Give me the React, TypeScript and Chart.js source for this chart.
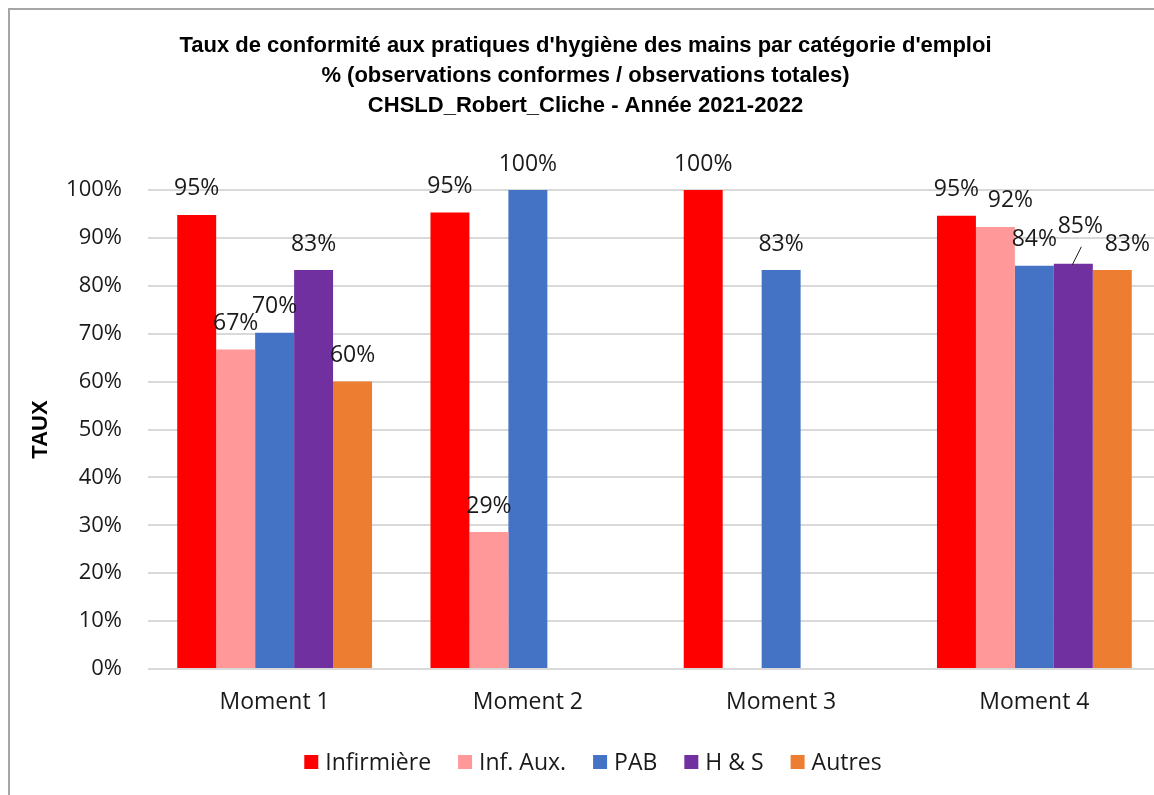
import React, { useEffect, useRef } from "react";
import { Chart, registerables } from "chart.js";

Chart.register(...registerables);

const categories = ["Moment 1", "Moment 2", "Moment 3", "Moment 4"];
const seriesNames = ["Infirmière", "Inf. Aux.", "PAB", "H & S", "Autres"];
const infirmiere = [94.8, 95.3, 100, 94.6];
const infAux = [66.7, 28.6, null, 92.3];
const pab = [70.2, 100, 83.3, 84.2];
const hs = [83.3, null, null, 84.6];
const autres = [60, null, null, 83.3];
const seriesColors = ["#FF0000", "#FF9999", "#4472C4", "#7030A0", "#ED7D31"];
const titleLines = [
  "Taux de conformité aux pratiques d'hygiène des mains par catégorie d'emploi",
  "% (observations conformes / observations totales)",
  "CHSLD_Robert_Cliche - Année 2021-2022",
];
const yTitle = "TAUX";

// label nudges: [datasetIndex, categoryIndex, dx, dy, leader]
const labelNudges: [number, number, number, number, boolean][] = [
  [1, 3, 15, 0, false],
  [3, 3, 7, -11, true],
  [4, 3, 15, 0, false],
];

const TEXT_FONT = "'Open Sans', sans-serif";
const BOLD_FONT = "'Liberation Sans', Arial, sans-serif";

const dataLabelPlugin = {
  id: "dataLabels",
  afterDatasetsDraw(chart: any) {
    const ctx = chart.ctx;
    ctx.save();
    ctx.font = `23px ${TEXT_FONT}`;
    ctx.fillStyle = "#1a1a1a";
    ctx.textAlign = "center";
    ctx.textBaseline = "middle";
    chart.data.datasets.forEach((ds: any, di: number) => {
      const meta = chart.getDatasetMeta(di);
      meta.data.forEach((el: any, i: number) => {
        const v = ds.data[i];
        if (v === null || v === undefined) return;
        let dx = 0, dy = 0, leader = false;
        for (const n of labelNudges) {
          if (n[0] === di && n[1] === i) { dx = n[2]; dy = n[3]; leader = n[4]; }
        }
        const x = el.x + dx;
        const y = el.y - 26 + dy;
        ctx.fillText(Math.round(v) + "%", x, y);
        if (leader) {
          ctx.beginPath();
          ctx.strokeStyle = "#1a1a1a";
          ctx.lineWidth = 1;
          ctx.moveTo(x + 1, y + 20);
          ctx.lineTo(el.x - 1, el.y + 1);
          ctx.stroke();
        }
      });
    });
    ctx.restore();
  },
};

const legendPlugin = {
  id: "customLegend",
  afterDraw(chart: any) {
    const ctx = chart.ctx;
    ctx.save();
    ctx.font = `23px ${TEXT_FONT}`;
    ctx.textBaseline = "middle";
    ctx.textAlign = "left";
    const box = 14, gap = 7, spacing = 27;
    const widths = chart.data.datasets.map((d: any) => ctx.measureText(d.label).width);
    const total = widths.reduce((a: number, w: number) => a + box + gap + w, 0) + spacing * (widths.length - 1);
    let x = 583 - total / 2;
    const y = 752;
    chart.data.datasets.forEach((d: any, i: number) => {
      ctx.fillStyle = d.backgroundColor;
      ctx.fillRect(x, y - box / 2, box, box);
      x += box + gap;
      ctx.fillStyle = "#1a1a1a";
      ctx.fillText(d.label, x, y + 1);
      x += widths[i] + spacing;
    });
    ctx.restore();
  },
};

export default function App() {
  const ref = useRef<HTMLCanvasElement | null>(null);
  useEffect(() => {
    if (!ref.current) return;
    const seriesData = [infirmiere, infAux, pab, hs, autres];
    const chart = new Chart(ref.current, {
      type: "bar",
      data: {
        labels: categories,
        datasets: seriesNames.map((name, i) => ({
          label: name,
          data: seriesData[i],
          backgroundColor: seriesColors[i],
          borderWidth: 0,
          barPercentage: 1,
          categoryPercentage: 5 / 6.5,
        })),
      },
      options: {
        responsive: false,
        animation: false,
        layout: { padding: { left: 0, right: 1, top: 0, bottom: 0 } },
        plugins: {
          legend: { display: false },
          tooltip: { enabled: false },
          title: {
            display: true,
            text: titleLines,
            color: "#000",
            font: { family: BOLD_FONT, size: 22, weight: "bold", lineHeight: 30 / 22 },
            padding: { top: 21, bottom: 69 },
          },
        },
        scales: {
          x: {
            grid: { display: false, drawTicks: false },
            border: { display: false },
            ticks: { color: "#1a1a1a", font: { family: TEXT_FONT, size: 23 }, padding: 20 },
            afterFit: (s: any) => { s.height = 120; },
          },
          y: {
            min: 0,
            max: 100,
            ticks: {
              stepSize: 10,
              color: "#1a1a1a",
              font: { family: TEXT_FONT, size: 22 },
              padding: 26,
              callback: (v: any) => v + "%",
            },
            grid: { color: "#d9d9d9", lineWidth: 2, drawTicks: false },
            border: { display: false },
            title: {
              display: true,
              text: yTitle,
              color: "#000",
              font: { family: BOLD_FONT, size: 22, weight: "bold" },
              padding: { top: 18, bottom: 0 },
            },
            afterFit: (s: any) => { s.width = 138; },
          },
        },
      },
      plugins: [dataLabelPlugin, legendPlugin],
    });
    return () => chart.destroy();
  }, []);

  return (
    <div style={{ position: "fixed", left: 0, top: 0, width: "100vw", height: "100vh", overflow: "hidden", background: "#fff" }}>
      <div style={{ position: "absolute", left: 8, top: 8, width: 1180, height: 820, border: "2px solid #a6a6a6", boxSizing: "border-box", background: "#fff" }}>
        <canvas ref={ref} width={1152} height={779} style={{ position: "absolute", left: 0, top: 0 }} />
      </div>
    </div>
  );
}
